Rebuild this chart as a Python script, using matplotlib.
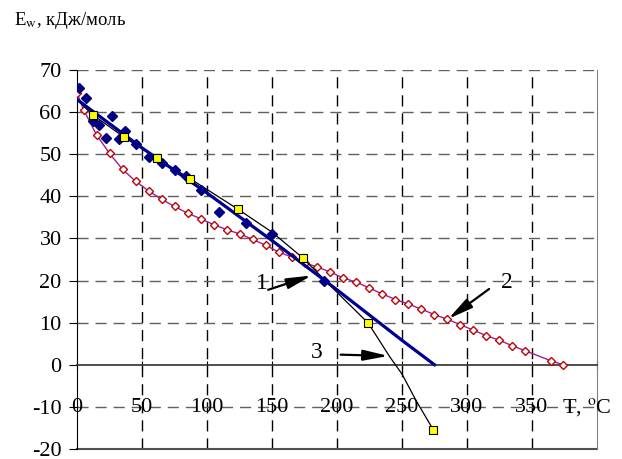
import matplotlib.pyplot as plt

plt.rcParams['font.family'] = ['Liberation Serif', 'DejaVu Serif']
plt.rcParams['mathtext.fontset'] = 'stix'
plt.rcParams['axes.unicode_minus'] = False

# series 1: blue diamonds and their fitted line
t1 = [1.5, 7, 12, 17, 22, 27, 32, 37, 45, 55, 65, 75, 84, 95, 109.5, 130, 150, 190]
e1 = [65.7, 63.3, 58, 57, 53.9, 59, 53.5, 55.5, 52.5, 49.4, 47.8, 46.2, 44.8, 41.6,
      36.3, 33.7, 31, 19.8]
t1_fit = [0, 50, 100, 150, 200, 250, 275]
e1_fit = [63, 51.5, 40.8, 29.5, 17.8, 5.8, 0]

# series 2: open red diamonds on a purple line
t2 = [0, 5, 15, 25, 35, 45, 55, 65, 75, 85, 95, 105, 115, 125, 135, 145, 155, 165,
      175, 185, 195, 205, 215, 225, 235, 245, 255, 265, 275, 285, 295, 305, 315,
      325, 335, 345, 365, 374]
e2 = [64.6, 60.6, 54.6, 50.2, 46.4, 43.6, 41.3, 39.3, 37.6, 36, 34.7, 33.3, 32.1,
      31.1, 29.8, 28.4, 26.8, 25.6, 24.2, 23.2, 22, 20.6, 19.6, 18.2, 16.8, 15.5,
      14.4, 13.2, 11.9, 10.8, 9.5, 8.2, 6.9, 5.8, 4.5, 3.3, 0.9, 0]

# series 3: yellow squares and the thin black curve
t3 = [12, 36.4, 61.5, 87, 124, 173.6, 224, 274]
e3 = [59.4, 54, 49, 44.2, 36.9, 25.4, 9.9, -15.4]
t3_line = [0, 12, 36.4, 61.5, 87, 124, 150, 173.6, 200, 224, 241, 250, 261, 274]
e3_line = [63, 59.4, 54, 49, 44.2, 36.9, 31.5, 25.4, 17.2, 9.9, 1.7, -2.2, -8.6, -15.4]

x_ticks = [0, 50, 100, 150, 200, 250, 300, 350, 400]
x_labels = ['0', '50', '100', '150', '200', '250', '300', '350', '']
y_ticks = [-20, -10, 0, 10, 20, 30, 40, 50, 60, 70]

fig = plt.figure(figsize=(6.22, 4.59), dpi=100)
ax = fig.add_axes([0.1238, 0.0218, 0.8360, 0.8257])

ax.set_xlim(0, 400)
ax.set_ylim(-20, 70)

# grid: black dashed verticals, gray dashed horizontals
for x in x_ticks[1:-1]:
    ax.axvline(x, color='black', lw=1, ls=(0, (8, 5)), zorder=0)
for y in y_ticks[1:]:
    if y != 0:
        ax.axhline(y, color='#606060', lw=1, ls=(0, (8, 5)), zorder=0)
# bottom frame at -20
ax.axhline(-20, color='#505050', lw=1.5, zorder=1, clip_on=False)

ax.plot(t2, e2, color='#9B1F9B', lw=1, marker='D', ms=4.5, mfc='white',
        mec='#C00000', mew=1, zorder=3)
ax.plot(t3_line, e3_line, color='black', lw=0.9, zorder=4)
ax.plot(t1, e1, ls='none', marker='D', ms=5, color='#000080', zorder=5)
ax.plot(t1_fit, e1_fit, color='#000090', lw=2.3, zorder=5)
ax.plot(t3, e3, ls='none', marker='s', ms=5.5, mfc='#FFFF00', mec='black',
        mew=0.8, zorder=6)

arrow = dict(arrowstyle='-|>,head_length=1.5,head_width=0.32', color='black',
             lw=1.6, shrinkA=0, shrinkB=0)
ax.annotate('', xy=(180.5, 21.2), xytext=(147, 17.8), arrowprops=arrow, zorder=7)
ax.text(142, 19.2, '1', fontsize=17, ha='center', va='center')
ax.annotate('', xy=(285.6, 10.9), xytext=(317, 18), arrowprops=arrow, zorder=7)
ax.text(330.5, 19.6, '2', fontsize=17, ha='center', va='center')
ax.annotate('', xy=(239.5, 2.1), xytext=(202.8, 2.4), arrowprops=arrow, zorder=7)
ax.text(184.4, 2.9, '3', fontsize=17, ha='center', va='center')

ax.spines['left'].set_color('black')
ax.spines['top'].set_visible(False)
ax.spines['right'].set_color('#808080')
ax.spines['bottom'].set_position(('data', 0))
ax.spines['bottom'].set_color('#303030')
ax.spines['bottom'].set_linewidth(1.2)

ax.set_xticks(x_ticks)
ax.set_xticklabels(x_labels)
ax.set_yticks(y_ticks)
ax.tick_params(axis='x', direction='inout', length=6, pad=21, labelsize=16)
ax.tick_params(axis='y', direction='out', length=6, pad=5, labelsize=16)

ax.text(373, -10, 'T, $^{\\rm o}$C', fontsize=16, ha='left', va='center')
fig.text(0.022, 0.955, 'E$_{\\rm w}$, кДж/моль', fontsize=13.5, ha='left', va='center')

fig.savefig('out.png', dpi=100)
